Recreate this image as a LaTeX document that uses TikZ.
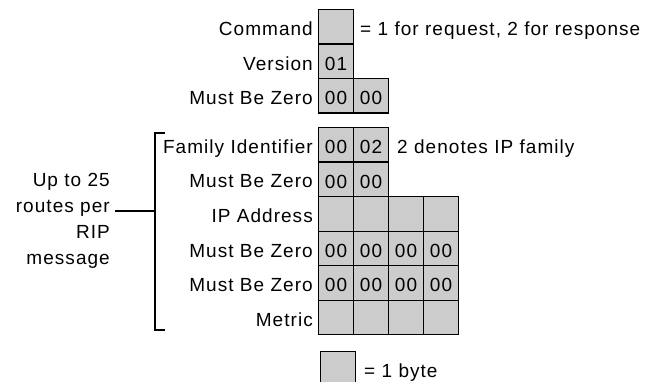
\documentclass[tikz,border=0pt]{standalone}
\usepackage{fontspec}
\setmainfont{Liberation Sans}[LetterSpace=5.5]
\definecolor{cellgray}{gray}{0.80}
\tikzset{
  txt/.style={font=\fontsize{19}{26}\selectfont, inner sep=0pt},
  lbl/.style={txt, anchor=base east},
  note/.style={txt, anchor=base west},
  cell/.style={txt, draw=black, line width=1.1pt, fill=cellgray,
    minimum width=35pt, minimum height=34.5pt, anchor=north west,
    text height=18pt, text depth=0pt},
  brk/.style={line width=1.4pt}
}
\begin{document}
\begin{tikzpicture}[x=1pt,y=-1pt]
\useasboundingbox (0,0) rectangle (658,382);

% upper block
\node[cell] (cmd) at (318,9) {};
\node[cell] (ver) at (318,43.5) {01};
\node[cell] (mz1a) at (318,78) {00};
\node[cell] (mz1b) at (353,78) {00};
\node[lbl] (lcmd) at (313,36) {Command};
\node[lbl] (lver) at (313,70.5) {Version};
\node[lbl] (lmz1) at (313,105) {Must Be Zero};
\node[note] (ncmd) at (360,36) {= 1 for request, 2 for response};

% lower block
\node[cell] (fa) at (318,127) {00};
\node[cell] (fb) at (353,127) {02};
\node[cell] (ma) at (318,161.5) {00};
\node[cell] (mb) at (353,161.5) {00};
\foreach \c in {0,1,2,3}{
  \node[cell] (ip\c) at (318+35*\c,196) {};
  \node[cell] (za\c) at (318+35*\c,230.5) {00};
  \node[cell] (zb\c) at (318+35*\c,265) {00};
  \node[cell] (me\c) at (318+35*\c,299.5) {};
}
\node[lbl] (lfam) at (313,153.5) {Family Identifier};
\node[lbl] (lmz2) at (313,188) {Must Be Zero};
\node[lbl] (lip) at (313,222.5) {IP Address};
\node[lbl] (lmz3) at (313,257) {Must Be Zero};
\node[lbl] (lmz4) at (313,291.5) {Must Be Zero};
\node[lbl] (lmet) at (313,326) {Metric};
\node[note] (nfam) at (397,153.5) {2 denotes IP family};

% bracket and side text
\coordinate (bt) at (165,133);
\coordinate (bb) at (165,330);
\coordinate (bm) at (155,211);
\draw[brk] (bt) -- (155,133) -- (155,330) -- (bb);
\node[lbl] (u1) at (110,186) {Up to 25};
\node[lbl] (u2) at (110,212) {routes per};
\node[lbl] (u3) at (110,238) {RIP};
\node[lbl] (u4) at (110,264) {message};
\draw[brk] ([shift={(5,-1)}]u2.base east) -- (bm);

% legend
\node[cell] (leg) at (320,351) {};
\node[note] (nleg) at (364,377) {= 1 byte};
\end{tikzpicture}
\end{document}
